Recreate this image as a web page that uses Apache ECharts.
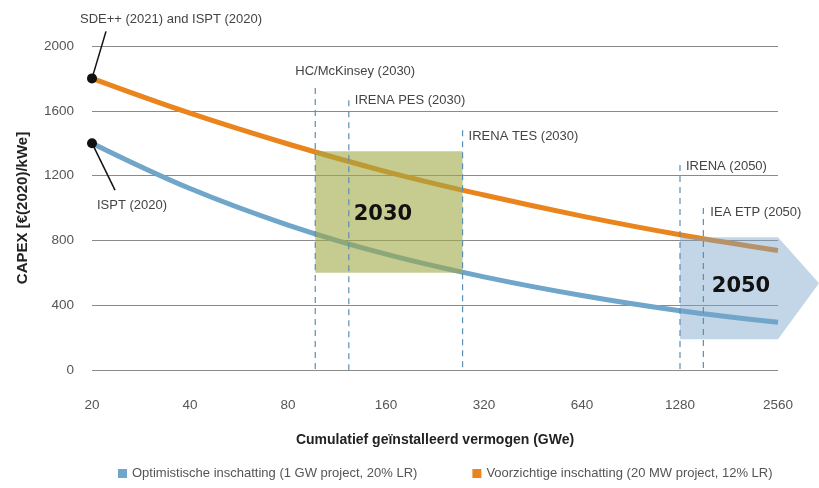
<!DOCTYPE html>
<html>
<head>
<meta charset="utf-8">
<script src="https://cdn.jsdelivr.net/npm/echarts@6/dist/echarts.min.js"></script>
<style>
  html, body { margin: 0; padding: 0; background: #fff; }
  #main { width: 819px; height: 488px; }
</style>
</head>
<body>
<div id="main"></div>
<script>
// cumulatief geinstalleerd vermogen (GWe), x-axis is log2
var capacity = [20, 40, 80, 160, 320, 640, 1280, 2560];
var optimistisch = [1400, 1120, 895, 715, 575, 460, 366, 295];
var voorzichtig = [1800, 1585, 1395, 1225, 1080, 950, 835, 738];
var yTicks = [0, 400, 800, 1200, 1600, 2000];

// studies (vertical dashed lines)
var refNames = ['HC/McKinsey (2030)', 'IRENA PES (2030)', 'IRENA TES (2030)', 'IRENA (2050)', 'IEA ETP (2050)'];
var refGWe = [97, 123, 275, 1280, 1510];

// bandbreedtes
var box2030 = { x: [97, 275], y: [600, 1350] };
var box2050 = { x: [1280, 2560], y: [190, 820] };

var BASE = 20;
function lx(v) { return Math.log2(v / BASE); }

var FONT = 'Liberation Sans';
var refTop = [1740, 1665, 1480, 1265, 1000];
var refLabelPos = [[-20, -17], [6, 0], [6, 6], [6, 1], [7, 4]];

var chart = echarts.init(document.getElementById('main'));

chart.setOption({
  animation: false,
  textStyle: { fontFamily: FONT },
  grid: { left: 92, right: 41, top: 46, bottom: 118 },
  legend: {
    bottom: 3,
    left: 113,
    itemGap: 55,
    itemWidth: 9,
    itemHeight: 9,
    icon: 'rect',
    textStyle: { color: '#555', fontSize: 13, fontFamily: FONT },
    data: ['Optimistische inschatting (1 GW project, 20% LR)', 'Voorzichtige inschatting (20 MW project, 12% LR)']
  },
  xAxis: {
    type: 'value',
    min: 0,
    max: 7,
    interval: 1,
    name: 'Cumulatief geïnstalleerd vermogen (GWe)',
    nameLocation: 'middle',
    nameGap: 63,
    nameTextStyle: { color: '#222', fontSize: 14, fontWeight: 'bold' },
    axisLine: { show: false },
    axisTick: { show: false },
    splitLine: { show: false },
    axisLabel: {
      color: '#555',
      fontSize: 13.5,
      margin: 28,
      formatter: function (v) { return String(Math.round(BASE * Math.pow(2, v))); }
    }
  },
  yAxis: {
    type: 'value',
    min: yTicks[0],
    max: yTicks[yTicks.length - 1],
    interval: 400,
    name: 'CAPEX [€(2020)/kWe]',
    nameLocation: 'middle',
    nameGap: 62,
    nameTextStyle: { color: '#222', fontSize: 15, fontWeight: 'bold' },
    axisLine: { show: false },
    axisTick: { show: false },
    axisLabel: {
      color: '#555', fontSize: 13.5, margin: 18,
      formatter: function (v) { return String(v); }
    },
    splitLine: { lineStyle: { color: '#8a8a8a', width: 1 } }
  },
  series: [
    {
      name: 'Optimistische inschatting (1 GW project, 20% LR)',
      type: 'line',
      smooth: 0.4,
      showSymbol: false,
      color: '#6fa6c9',
      lineStyle: { width: 5, color: '#6fa6c9' },
      z: 3,
      data: capacity.map(function (c, i) { return [lx(c), optimistisch[i]]; })
    },
    {
      name: 'Voorzichtige inschatting (20 MW project, 12% LR)',
      type: 'line',
      smooth: 0.4,
      showSymbol: false,
      color: '#ea841d',
      lineStyle: { width: 5, color: '#ea841d' },
      z: 3,
      data: capacity.map(function (c, i) { return [lx(c), voorzichtig[i]]; })
    },
    {
      // 2030 en 2050 bandbreedtes, over de lijnen heen
      type: 'custom',
      silent: true,
      clip: false,
      z: 5,
      data: [0],
      renderItem: function (params, api) {
        var a = api.coord([lx(box2030.x[0]), box2030.y[1]]);
        var b = api.coord([lx(box2030.x[1]), box2030.y[0]]);
        var p0 = api.coord([lx(box2050.x[0]), box2050.y[1]]);
        var p1 = api.coord([lx(box2050.x[1]), box2050.y[1]]);
        var p2 = api.coord([lx(box2050.x[1]), box2050.y[0]]);
        var p3 = api.coord([lx(box2050.x[0]), box2050.y[0]]);
        var tip = [p1[0] + 41, (p1[1] + p2[1]) / 2 - 5];
        return {
          type: 'group',
          children: [
            {
              type: 'rect',
              shape: { x: a[0], y: a[1], width: b[0] - a[0], height: b[1] - a[1] },
              style: { fill: 'rgba(160,168,70,0.6)' }
            },
            {
              type: 'text',
              style: {
                x: (a[0] + b[0]) / 2 - 6, y: (a[1] + b[1]) / 2 + 2,
                text: '2030', fill: '#111', font: 'bold 21px "DejaVu Sans"',
                align: 'center', verticalAlign: 'middle'
              }
            },
            {
              type: 'polygon',
              shape: { points: [p0, p1, tip, p2, p3] },
              style: { fill: 'rgba(120,165,205,0.45)' }
            },
            {
              type: 'text',
              style: {
                x: (p0[0] + p1[0]) / 2 + 12, y: (p0[1] + p3[1]) / 2 - 2,
                text: '2050', fill: '#111', font: 'bold 21px "DejaVu Sans"',
                align: 'center', verticalAlign: 'middle'
              }
            }
          ]
        };
      }
    },
    {
      // studies: verticale stippellijnen met label
      type: 'custom',
      silent: true,
      clip: false,
      z: 6,
      data: refGWe.map(function (g, i) { return [lx(g), refTop[i], i]; }),
      renderItem: function (params, api) {
        var i = api.value(2);
        var top = api.coord([api.value(0), api.value(1)]);
        var bot = api.coord([api.value(0), 0]);
        var off = refLabelPos[i];
        return {
          type: 'group',
          children: [
            {
              type: 'line',
              shape: { x1: top[0], y1: top[1], x2: bot[0], y2: bot[1] },
              style: { stroke: '#5a8fb5', lineWidth: 1.2, lineDash: [6, 5] }
            },
            {
              type: 'text',
              style: {
                x: top[0] + off[0], y: top[1] + off[1],
                text: refNames[i], fill: '#444', font: '13px "Liberation Sans"',
                align: 'left', verticalAlign: 'middle'
              }
            }
          ]
        };
      }
    },
    {
      // startpunten met bron
      type: 'custom',
      silent: true,
      clip: false,
      z: 7,
      data: [[0, voorzichtig[0], 0], [0, optimistisch[0], 1]],
      renderItem: function (params, api) {
        var p = api.coord([api.value(0), api.value(1)]);
        var up = api.value(2) === 0;
        var end = up ? [p[0] + 14, p[1] - 47] : [p[0] + 23, p[1] + 47];
        return {
          type: 'group',
          children: [
            {
              type: 'line',
              shape: { x1: p[0], y1: p[1], x2: end[0], y2: end[1] },
              style: { stroke: '#111', lineWidth: 1.5 }
            },
            {
              type: 'circle',
              shape: { cx: p[0], cy: p[1], r: 5 },
              style: { fill: '#111' }
            },
            {
              type: 'text',
              style: {
                x: up ? p[0] - 12 : p[0] + 5, y: up ? end[1] - 12 : end[1] + 15,
                text: up ? 'SDE++ (2021) and ISPT (2020)' : 'ISPT (2020)',
                fill: '#444', font: '13px "Liberation Sans"',
                align: 'left', verticalAlign: 'middle'
              }
            }
          ]
        };
      }
    }
  ]
});
</script>
</body>
</html>
